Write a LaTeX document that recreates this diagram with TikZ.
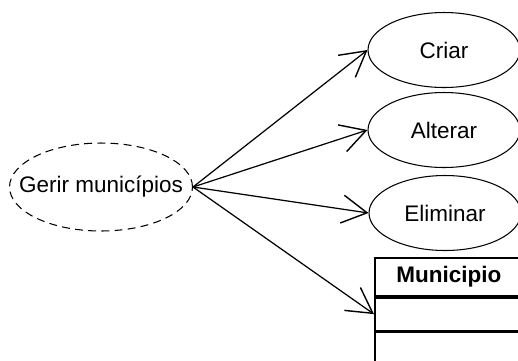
\documentclass[tikz,border=0pt]{standalone}
\usepackage{fontspec}
\setmainfont{Liberation Sans}
\usetikzlibrary{shapes.geometric,arrows.meta,positioning}
\tikzstyle{usecase}   = [ellipse, draw, line width=0.6pt, inner sep=0pt, minimum width=3.04cm, minimum height=1.5cm, label={[font=\fontsize{12.8}{15}\selectfont]center:#1}]
\tikzstyle{abstract}  = [usecase=#1, dash pattern=on 4.5pt off 3pt, minimum width=3.66cm, minimum height=1.76cm]
\tikzstyle{compart}   = [rectangle, draw, line width=1pt, minimum width=2.96cm, inner sep=0pt]
\tikzstyle{arrow}     = [line width=0.7pt, -{Straight Barb[length=0.5cm, width=0.56cm, line width=0.8pt]}]

\begin{document}
\begin{tikzpicture}[x=0.02cm, y=-0.02cm]
        \useasboundingbox (0,0) rectangle (518,360);

        % casos de uso
        \node[abstract={Gerir munic\'ipios}] (gerir) at (101,187) {};
        \node[usecase=Criar] (criar) at (444,50) {};
        \node[usecase=Alterar] (alterar) at (444,130) {};
        \node[usecase=Eliminar] (eliminar) at (445,213) {};

        % classe
        \node[compart, anchor=north west, minimum height=0.76cm, font=\fontsize{12.8}{15}\selectfont\bfseries] (municipio) at (374,257) {Municipio};
        \node[compart, anchor=north, minimum height=0.66cm] (atributos) at (municipio.south) {};
        \node[compart, anchor=north, minimum height=0.8cm] (operacoes) at (atributos.south) {};

        \draw[arrow] (gerir.east) -- (criar.west);
        \draw[arrow] (gerir.east) -- (alterar.west);
        \draw[arrow] (gerir.east) -- (eliminar.west);
        \draw[arrow] (gerir.east) -- (atributos.west);
    \end{tikzpicture}
\end{document}
